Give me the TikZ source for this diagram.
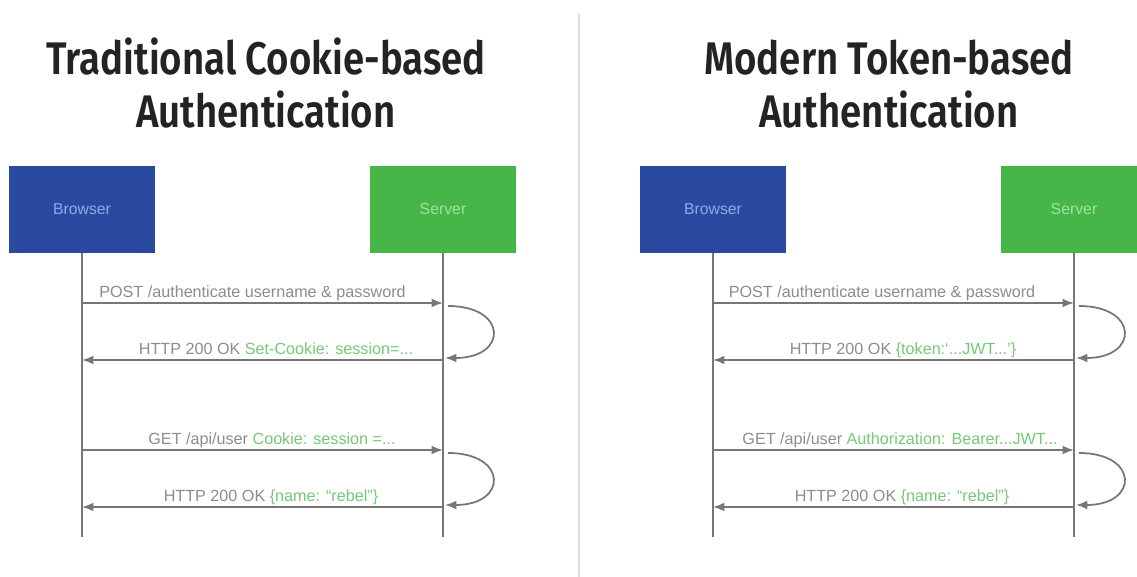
\documentclass[tikz,border=0pt]{standalone}
\usepackage{fontspec}
\setmainfont{Liberation Sans}
\newfontfamily\titlefont{Fira Sans SemiBold}
\usetikzlibrary{arrows.meta, positioning}

\definecolor{browserblue}{RGB}{42,74,160}
\definecolor{browsertext}{RGB}{140,170,232}
\definecolor{servergreen}{RGB}{70,182,72}
\definecolor{servertext}{RGB}{160,226,160}
\definecolor{linegray}{RGB}{118,118,118}
\definecolor{labelgray}{RGB}{140,140,140}
\definecolor{labelgreen}{RGB}{118,200,118}
\definecolor{titlegray}{RGB}{35,35,35}
\definecolor{dividergray}{RGB}{222,222,222}

\newcommand{\headtext}[1]{\scalebox{0.84}[1]{#1}}

\tikzset{
  actor/.style={minimum width=2.94cm, minimum height=1.74cm, inner sep=0pt,
    font=\fontsize{9}{11}\selectfont},
  browser/.style={actor, fill=browserblue, text=browsertext},
  server/.style={actor, fill=servergreen, text=servertext},
  lifeline/.style={draw=linegray, line width=1pt},
  message/.style={draw=linegray, line width=1pt, -{Latex[length=6.5pt,width=5pt]}},
  msglabel/.style={text=labelgray, font=\fontsize{9.2}{11}\selectfont,
    inner sep=0pt, anchor=base, yshift=0.1cm},
  headline/.style={font=\titlefont\fontsize{26}{30}\selectfont,
    text=titlegray, anchor=base},
}

\begin{document}
\begin{tikzpicture}[x=0.02cm, y=-0.02cm]
  \clip (0,0) rectangle (1137,577);

  % divider
  \coordinate (divtop) at (579,14);
  \coordinate (divbot) at (579,577);
  \draw[dividergray, line width=1.1pt] (divtop) -- (divbot);

  % ---- cookie based ----
  \node[headline] (titleA1) at (266,75) {\headtext{Traditional Cookie-based}};
  \node[headline] (titleA2) at (266,128) {\headtext{Authentication}};

  \node[browser] (browserA) at (82,209.5) {Browser};
  \node[server] (serverA) at (443,209.5) {Server};
  \coordinate (browserAend) at (82,537);
  \coordinate (serverAend) at (443,537);
  \draw[lifeline] (browserA.south) -- (browserAend);
  \draw[lifeline] (serverA.south) -- (serverAend);

  \coordinate (bA1) at (82,303);  \coordinate (sA1) at (443,303);
  \coordinate (bA2) at (82,360);  \coordinate (sA2) at (443,360);
  \coordinate (bA3) at (82,450);  \coordinate (sA3) at (443,450);
  \coordinate (bA4) at (82,507);  \coordinate (sA4) at (443,507);

  \draw[message] (bA1) -- node[msglabel, xshift=-0.2cm]
    {POST /authenticate username \& password} (sA1);
  \draw[message] (sA2) -- node[msglabel, xshift=0.27cm]
    {HTTP 200 OK \textcolor{labelgreen}{Set-Cookie: session=...}} (bA2);
  \draw[message] (bA3) -- node[msglabel, xshift=0.19cm]
    {GET /api/user \textcolor{labelgreen}{Cookie: session =...}} (sA3);
  \draw[message] (sA4) -- node[msglabel, xshift=0.17cm]
    {HTTP 200 OK \textcolor{labelgreen}{\{name: “rebel”\}}} (bA4);

  \draw[message] ([shift={(0.1cm,-0.06cm)}]sA1) .. controls +(60,0) and +(63,0)
    .. ([shift={(0.04cm,0.04cm)}]sA2);
  \draw[message] ([shift={(0.1cm,-0.06cm)}]sA3) .. controls +(60,0) and +(63,0)
    .. ([shift={(0.04cm,0.04cm)}]sA4);

  % ---- token based ----
  \node[headline] (titleB1) at (889,75) {\headtext{Modern Token-based}};
  \node[headline] (titleB2) at (889,128) {\headtext{Authentication}};

  \node[browser] (browserB) at (713,209.5) {Browser};
  \node[server] (serverB) at (1074,209.5) {Server};
  \coordinate (browserBend) at (713,537);
  \coordinate (serverBend) at (1074,537);
  \draw[lifeline] (browserB.south) -- (browserBend);
  \draw[lifeline] (serverB.south) -- (serverBend);

  \coordinate (bB1) at (713,303);  \coordinate (sB1) at (1074,303);
  \coordinate (bB2) at (713,360);  \coordinate (sB2) at (1074,360);
  \coordinate (bB3) at (713,450);  \coordinate (sB3) at (1074,450);
  \coordinate (bB4) at (713,507);  \coordinate (sB4) at (1074,507);

  \draw[message] (bB1) -- node[msglabel, xshift=-0.23cm]
    {POST /authenticate username \& password} (sB1);
  \draw[message] (sB2) -- node[msglabel, xshift=0.19cm]
    {HTTP 200 OK \textcolor{labelgreen}{\{token:‘...JWT...’\}}} (bB2);
  \draw[message] (bB3) -- node[msglabel, xshift=0.13cm]
    {GET /api/user \textcolor{labelgreen}{Authorization: Bearer...JWT...}} (sB3);
  \draw[message] (sB4) -- node[msglabel, xshift=0.17cm]
    {HTTP 200 OK \textcolor{labelgreen}{\{name: “rebel”\}}} (bB4);

  \draw[message] ([shift={(0.1cm,-0.06cm)}]sB1) .. controls +(60,0) and +(63,0)
    .. ([shift={(0.04cm,0.04cm)}]sB2);
  \draw[message] ([shift={(0.1cm,-0.06cm)}]sB3) .. controls +(60,0) and +(63,0)
    .. ([shift={(0.04cm,0.04cm)}]sB4);
\end{tikzpicture}
\end{document}
